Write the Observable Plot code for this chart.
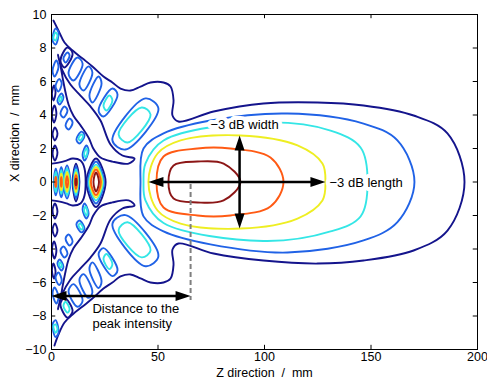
<!DOCTYPE html>
<html>
<head>
<meta charset="utf-8">
<script src="https://cdn.jsdelivr.net/npm/d3@7"></script>
<script src="https://cdn.jsdelivr.net/npm/@observablehq/plot@0.6"></script>
<style>
  body { margin: 0; background: #fff; }
  #chart { width: 487px; height: 383px; }
</style>
</head>
<body>
<div id="chart"></div>
<script>
// ---------- axes ----------
const xTicks = [0, 50, 100, 150, 200];
const yTicks = [-10, -8, -6, -4, -2, 0, 2, 4, 6, 8, 10];
const xLabel = "Z direction\u00a0 /\u00a0 mm";
const yLabel = "X direction\u00a0 /\u00a0 mm";

// contour levels: 0 navy, 1 blue, 2 cyan, 3 yellow, 4 orange, 5 dark red
const levelColors = ["#14148c", "#2062e6", "#34e6e6", "#eeee22", "#ff5a14", "#8c1616"];

// ---------- main focal lobe (z mm, x mm) ----------
const mainLobe = [
  [1, [[41.8,0],[43.2,2.0],[52.6,2.9],[74.6,3.67],[110.8,4.09],[146.5,3.49],[162.4,2.48],[170.4,0],[162.4,-2.4],[146.5,-3.49],[110.8,-4.21],[74.6,-3.72],[52.6,-2.95],[43.2,-2.05]]],
  [2, [[43.2,0],[44.1,1.1],[52.6,2.48],[99.5,3.55],[131.0,3.07],[145.1,2.06],[148.4,0],[145.1,-2.06],[131.0,-2.95],[99.5,-3.52],[52.6,-2.45],[44.1,-1.1]]],
  [3, [[45.5,0],[49.8,1.7],[60.6,2.48],[88.7,2.78],[115.5,2.18],[127.2,1.1],[128.6,0],[127.2,-1.1],[115.5,-2.18],[88.7,-2.78],[60.6,-2.48],[49.8,-1.7]]],
  [4, [[49.3,0],[52.6,1.52],[68.5,2.0],[84.0,2.0],[102.8,1.46],[108.9,0],[102.8,-1.46],[84.0,-2.0],[68.5,-2.0],[52.6,-1.52]]],
  [5, [[54.9,0],[57.3,0.99],[68.5,1.22],[80.8,1.1],[88.7,0],[80.8,-1.1],[68.5,-1.22],[57.3,-0.99]]]
];

// outer navy contour, open at the z = 0 edge
const navyEnvelope = [[0.9,9.64],[3.3,9.04],[6.1,8.33],[9.9,7.85],[14.6,7.37],[19.2,6.9],[24.4,6.3],[28.6,5.94],[32.4,5.58],[37.1,5.46],[41.8,5.7],[46.5,5.94],[52.6,5.94],[55.9,5.7],[57.3,4.87],[56.8,3.97],[59.6,3.61],[76.1,4.21],[99.5,4.69],[124.9,4.75],[146.5,4.57],[170.0,3.97],[185.9,2.9],[193.9,0],[185.9,-2.9],[170.0,-4.09],[146.5,-4.69],[124.9,-4.87],[99.5,-4.69],[76.1,-4.27],[59.6,-3.67],[56.8,-4.03],[57.3,-4.93],[55.9,-5.76],[52.6,-6.0],[46.5,-6.0],[41.8,-5.76],[37.1,-5.52],[32.4,-5.64],[28.6,-6.0],[24.4,-6.36],[19.2,-6.96],[14.6,-7.43],[9.9,-7.91],[6.1,-8.39],[3.3,-9.1],[1.4,-9.76]];
const navyInner = [[0.2,1.1],[3.3,1.16],[7.0,1.28],[9.9,1.4],[13.6,1.28],[15.5,0.81],[15.5,-0.81],[13.6,-1.28],[9.9,-1.4],[7.0,-1.28],[3.3,-1.16],[0.2,-1.1]];

// ---------- upper side lobes ----------
const upperLobes = [
  [0, [[3.0,7.6],[5.0,6.7],[8.9,5.82],[13.6,5.16],[18.3,4.51],[23.0,3.67],[27.7,2.24],[33.3,1.58],[39.0,1.40],[36.2,1.10],[28.6,1.22],[23.0,1.46],[19.6,2.0],[17.6,2.6],[13.8,3.35],[10.3,3.95],[8.0,4.63],[6.6,5.34],[5.4,6.1],[4.2,6.95]]],
  [1, [[0.5,8.45],[1.9,9.16],[3.3,8.93],[1.9,8.21]]],
  [2, [[0.9,8.57],[1.9,8.93],[2.8,8.75],[1.9,8.45]]],
  [0, [[4.2,7.25],[7.5,8.03],[9.9,7.67],[6.1,6.84]]],
  [1, [[5.6,7.37],[7.5,7.73],[8.5,7.55],[6.6,7.13]]],
  [1, [[8.0,6.48],[12.2,7.43],[14.6,7.07],[10.3,6.06]]],
  [1, [[13.1,5.82],[17.4,6.9],[19.2,6.54],[15.0,5.46]]],
  [1, [[17.8,5.16],[22.1,6.3],[23.5,5.88],[19.2,4.75]]],
  [1, [[22.1,4.27],[28.6,5.58],[31.0,5.22],[24.4,3.91]]],
  [2, [[24.4,4.57],[27.2,5.16],[28.6,4.87],[25.8,4.27]]],
  [1, [[28.6,2.48],[44.1,4.99],[50.2,4.39],[34.7,1.94]]],
  [2, [[31.5,2.84],[42.3,4.45],[46.5,4.03],[35.7,2.36]]],
  [1, [[0.5,6.66],[2.3,7.25],[3.3,6.87],[1.4,6.3]]],
  [1, [[1.9,5.7],[3.6,6.15],[4.8,5.9],[3.3,5.4]]],
  [1, [[2.8,4.87],[4.7,5.28],[5.6,5.04],[3.8,4.63]]],
  [2, [[3.5,4.93],[4.5,5.1],[4.9,4.99],[4.0,4.81]]],
  [1, [[4.2,4.09],[6.1,4.51],[7.5,4.27],[5.6,3.85]]],
  [1, [[6.6,3.37],[8.5,3.79],[9.9,3.55],[8.0,3.13]]],
  [1, [[11.7,2.54],[14.1,3.01],[15.5,2.78],[13.1,2.3]]],
  [2, [[12.7,2.6],[14.1,2.84],[14.8,2.72],[13.4,2.48]]],
  [1, [[14.6,1.64],[16.4,2.18],[17.4,1.88],[15.5,1.28]]],
  [2, [[15.3,1.7],[16.4,2.0],[16.9,1.82],[16.0,1.46]]],
  [0, [[0.2,5.28],[1.2,5.76],[1.9,5.34],[0.9,4.87]]],
  [0, [[0.2,4.03],[1.4,4.57],[2.3,4.09],[1.2,3.55]]],
  [0, [[0.5,2.84],[1.6,3.25],[2.8,2.9],[1.6,2.48]]],
  [0, [[0.5,1.7],[1.6,2.18],[2.8,1.76],[1.6,1.28]]]
];

// ---------- lower side lobes ----------
const lowerLobes = [
  [0, [[3.0,-7.6],[5.0,-6.7],[8.9,-5.82],[13.6,-5.16],[18.3,-4.51],[23.0,-3.67],[27.7,-2.24],[33.3,-1.58],[39.0,-1.40],[36.2,-1.10],[28.6,-1.22],[23.0,-1.46],[19.6,-2.0],[17.6,-2.6],[13.8,-3.35],[10.3,-3.95],[8.0,-4.63],[6.6,-5.34],[5.4,-6.1],[4.2,-6.95]]],
  [1, [[0.5,-8.5],[1.9,-9.25],[3.3,-9.0],[1.9,-8.25]]],
  [2, [[0.9,-8.6],[1.9,-9.0],[2.8,-8.8],[1.9,-8.5]]],
  [0, [[4.2,-7.3],[7.5,-8.1],[9.9,-7.7],[6.1,-6.9]]],
  [2, [[5.6,-7.4],[7.5,-7.8],[8.5,-7.6],[6.6,-7.15]]],
  [1, [[8.0,-6.5],[12.2,-7.45],[14.6,-7.1],[10.3,-6.1]]],
  [1, [[13.1,-5.85],[17.4,-6.92],[19.2,-6.58],[15.0,-5.5]]],
  [1, [[17.8,-5.2],[22.1,-6.33],[23.5,-5.92],[19.2,-4.8]]],
  [1, [[22.1,-4.3],[28.6,-5.62],[31.0,-5.26],[24.4,-3.95]]],
  [2, [[24.4,-4.6],[27.2,-5.2],[28.6,-4.9],[25.8,-4.3]]],
  [1, [[28.6,-2.5],[44.1,-5.03],[50.2,-4.43],[34.7,-1.98]]],
  [2, [[31.5,-2.88],[42.3,-4.5],[46.5,-4.08],[35.7,-2.4]]],
  [1, [[0.5,-6.66],[2.3,-7.25],[3.3,-6.87],[1.4,-6.3]]],
  [1, [[1.9,-5.7],[3.6,-6.15],[4.8,-5.9],[3.3,-5.4]]],
  [1, [[2.8,-4.87],[4.7,-5.28],[5.6,-5.04],[3.8,-4.63]]],
  [2, [[3.5,-4.93],[4.5,-5.1],[4.9,-4.99],[4.0,-4.81]]],
  [1, [[4.2,-4.09],[6.1,-4.51],[7.5,-4.27],[5.6,-3.85]]],
  [1, [[6.6,-3.37],[8.5,-3.79],[9.9,-3.55],[8.0,-3.13]]],
  [1, [[11.7,-2.54],[14.1,-3.01],[15.5,-2.78],[13.1,-2.3]]],
  [2, [[12.7,-2.6],[14.1,-2.84],[14.8,-2.72],[13.4,-2.48]]],
  [1, [[14.6,-1.64],[16.4,-2.18],[17.4,-1.88],[15.5,-1.28]]],
  [2, [[15.3,-1.7],[16.4,-2.0],[16.9,-1.82],[16.0,-1.46]]],
  [0, [[0.2,-5.28],[1.2,-5.76],[1.9,-5.34],[0.9,-4.87]]],
  [0, [[0.2,-4.03],[1.4,-4.57],[2.3,-4.09],[1.2,-3.55]]],
  [0, [[0.5,-2.84],[1.6,-3.25],[2.8,-2.9],[1.6,-2.48]]],
  [0, [[0.5,-1.7],[1.6,-2.18],[2.8,-1.76],[1.6,-1.28]]]
];

// ---------- near-field peaks on the axis ----------
const axisPeaks = [
  [0, [[16.4,0],[20.9,1.40],[25.4,0],[20.9,-1.49]]],
  [1, [[17.1,0],[20.9,1.22],[24.6,0],[20.9,-1.28]]],
  [2, [[17.6,0],[20.9,1.04],[24.2,0],[20.9,-1.10]]],
  [3, [[18.1,0],[20.9,0.90],[23.7,0],[20.9,-0.93]]],
  [4, [[18.5,0],[20.9,0.75],[23.2,0],[20.9,-0.78]]],
  [5, [[19.7,0],[20.9,0.57],[22.3,0],[20.9,-0.57]]],
  [0, [[9.9,0],[11.5,1.1],[13.1,0],[11.5,-1.16]]],
  [1, [[10.2,0],[11.5,0.93],[12.8,0],[11.5,-0.97]]],
  [2, [[10.5,0],[11.5,0.75],[12.5,0],[11.5,-0.78]]],
  [3, [[10.8,0],[11.5,0.57],[12.2,0],[11.5,-0.6]]],
  [4, [[11.0,0],[11.5,0.4],[12.0,0],[11.5,-0.42]]],
  [5, [[11.25,0],[11.5,0.2],[11.75,0],[11.5,-0.2]]],
  [1, [[5.6,0],[7.3,0.99],[8.9,0],[7.3,-0.99]]],
  [2, [[6.0,0],[7.3,0.8],[8.6,0],[7.3,-0.8]]],
  [3, [[6.4,0],[7.3,0.58],[8.2,0],[7.3,-0.58]]],
  [4, [[6.8,0],[7.3,0.35],[7.8,0],[7.3,-0.35]]],
  [1, [[3.4,0],[4.6,0.88],[5.8,0],[4.6,-0.91]]],
  [2, [[3.8,0],[4.6,0.7],[5.4,0],[4.6,-0.7]]],
  [3, [[4.1,0],[4.6,0.5],[5.1,0],[4.6,-0.5]]],
  [4, [[4.35,0],[4.6,0.28],[4.85,0],[4.6,-0.28]]],
  [1, [[1.1,0],[2.0,0.8],[3.0,0],[2.0,-0.8]]],
  [2, [[1.4,0],[2.0,0.6],[2.7,0],[2.0,-0.6]]],
  [4, [[1.7,0],[2.0,0.3],[2.3,0],[2.0,-0.3]]]
];

// ---------- annotations ----------
const hArrows = [{z1: 45.5, z2: 128.6, x: 0}, {z1: 0, z2: 65.3, x: -6.8}];
const vArrows = [{z: 88.3, x1: 2.78, x2: -2.78}];
const peakMarker = [{z: 65.3, x1: -0.15, x2: -7.07}];
const labels = [
  {z: 74.6, x: 3.43, text: "\u22123 dB width", halo: 8},
  {z: 130.5, x: 0, text: "\u22123 dB length", halo: 8},
  {z: 19.2, x: -8.0, text: "Distance to the\npeak intensity", halo: 0}
];

// ---------- build rows ----------
function toRows(list, prefix) {
  return list.flatMap(([level, pts], i) =>
    pts.map(([z, x]) => ({id: prefix + i, level, z, x})));
}
const closedRows = [
  ...toRows(upperLobes, "u"),
  ...toRows(lowerLobes, "l"),
  ...toRows(axisPeaks, "p"),
  ...toRows(mainLobe, "m")
].sort((a, b) => a.level - b.level);
const openRows = [
  ...navyEnvelope.map(([z, x]) => ({id: "env", level: 0, z, x})),
  ...navyInner.map(([z, x]) => ({id: "inn", level: 0, z, x}))
];

const fmt = d => d < 0 ? "\u2212" + Math.abs(d) : String(d);

const headRight = {draw(c) { c.moveTo(0, 0); c.lineTo(-15, -5); c.lineTo(-15, 5); c.closePath(); }};
const headLeft  = {draw(c) { c.moveTo(0, 0); c.lineTo(15, -5); c.lineTo(15, 5); c.closePath(); }};
const headUp    = {draw(c) { c.moveTo(0, 0); c.lineTo(-5, 15); c.lineTo(5, 15); c.closePath(); }};
const headDown  = {draw(c) { c.moveTo(0, 0); c.lineTo(-5, -15); c.lineTo(5, -15); c.closePath(); }};

const chart = Plot.plot({
  width: 487,
  height: 383,
  marginLeft: 51,
  marginRight: 10,
  marginTop: 14,
  marginBottom: 34,
  style: {fontFamily: "'Liberation Sans', Arial, Helvetica, sans-serif", fontSize: "12.5px", color: "black", background: "white"},
  x: {domain: [0, 200], ticks: xTicks, tickSize: 0, tickPadding: 3, label: null, tickFormat: fmt},
  y: {domain: [-10, 10], ticks: yTicks, tickSize: 0, tickPadding: 5, label: null, tickFormat: fmt},
  color: {type: "identity"},
  marks: [
    Plot.line(openRows, {x: "z", y: "x", z: "id", stroke: d => levelColors[d.level], strokeWidth: 1.9, curve: "catmull-rom", clip: true}),
    Plot.line(closedRows, {x: "z", y: "x", z: "id", stroke: d => levelColors[d.level], strokeWidth: 1.9, curve: "catmull-rom-closed", clip: true}),
    Plot.ruleX(peakMarker, {x: "z", y1: "x1", y2: "x2", stroke: "#7f7f7f", strokeWidth: 2, strokeDasharray: "5,3"}),
    Plot.text(labels, {x: "z", y: "x", text: "text", textAnchor: "start", fill: "black", stroke: "white", strokeWidth: d => d.halo, lineHeight: 1.15, fontSize: 13}),
    Plot.ruleY(hArrows, {y: "x", x1: "z1", x2: "z2", stroke: "black", strokeWidth: 2.5, insetLeft: 8, insetRight: 8}),
    Plot.ruleX(vArrows, {x: "z", y1: "x1", y2: "x2", stroke: "black", strokeWidth: 2.5, insetTop: 8, insetBottom: 8}),
    Plot.dot(hArrows, {x: "z2", y: "x", symbol: headRight, fill: "black", stroke: "none"}),
    Plot.dot(hArrows, {x: "z1", y: "x", symbol: headLeft, fill: "black", stroke: "none"}),
    Plot.dot(vArrows, {x: "z", y: "x1", symbol: headUp, fill: "black", stroke: "none"}),
    Plot.dot(vArrows, {x: "z", y: "x2", symbol: headDown, fill: "black", stroke: "none"}),
    Plot.ruleY(yTicks, {y: d => d, x1: 0, x2: 2, stroke: "black"}),
    Plot.ruleY(yTicks, {y: d => d, x1: 198, x2: 200, stroke: "black"}),
    Plot.ruleX(xTicks, {x: d => d, y1: -10, y2: -9.75, stroke: "black"}),
    Plot.ruleX(xTicks, {x: d => d, y1: 9.75, y2: 10, stroke: "black"}),
    Plot.frame({stroke: "black"}),
    Plot.text([xLabel], {frameAnchor: "bottom", dy: 27, text: d => d, fontSize: 12.5, fill: "black"}),
    Plot.text([yLabel], {frameAnchor: "left", dx: -37, rotate: -90, text: d => d, fontSize: 12.5, fill: "black"})
  ]
});
document.getElementById("chart").appendChild(chart);
</script>
</body>
</html>
